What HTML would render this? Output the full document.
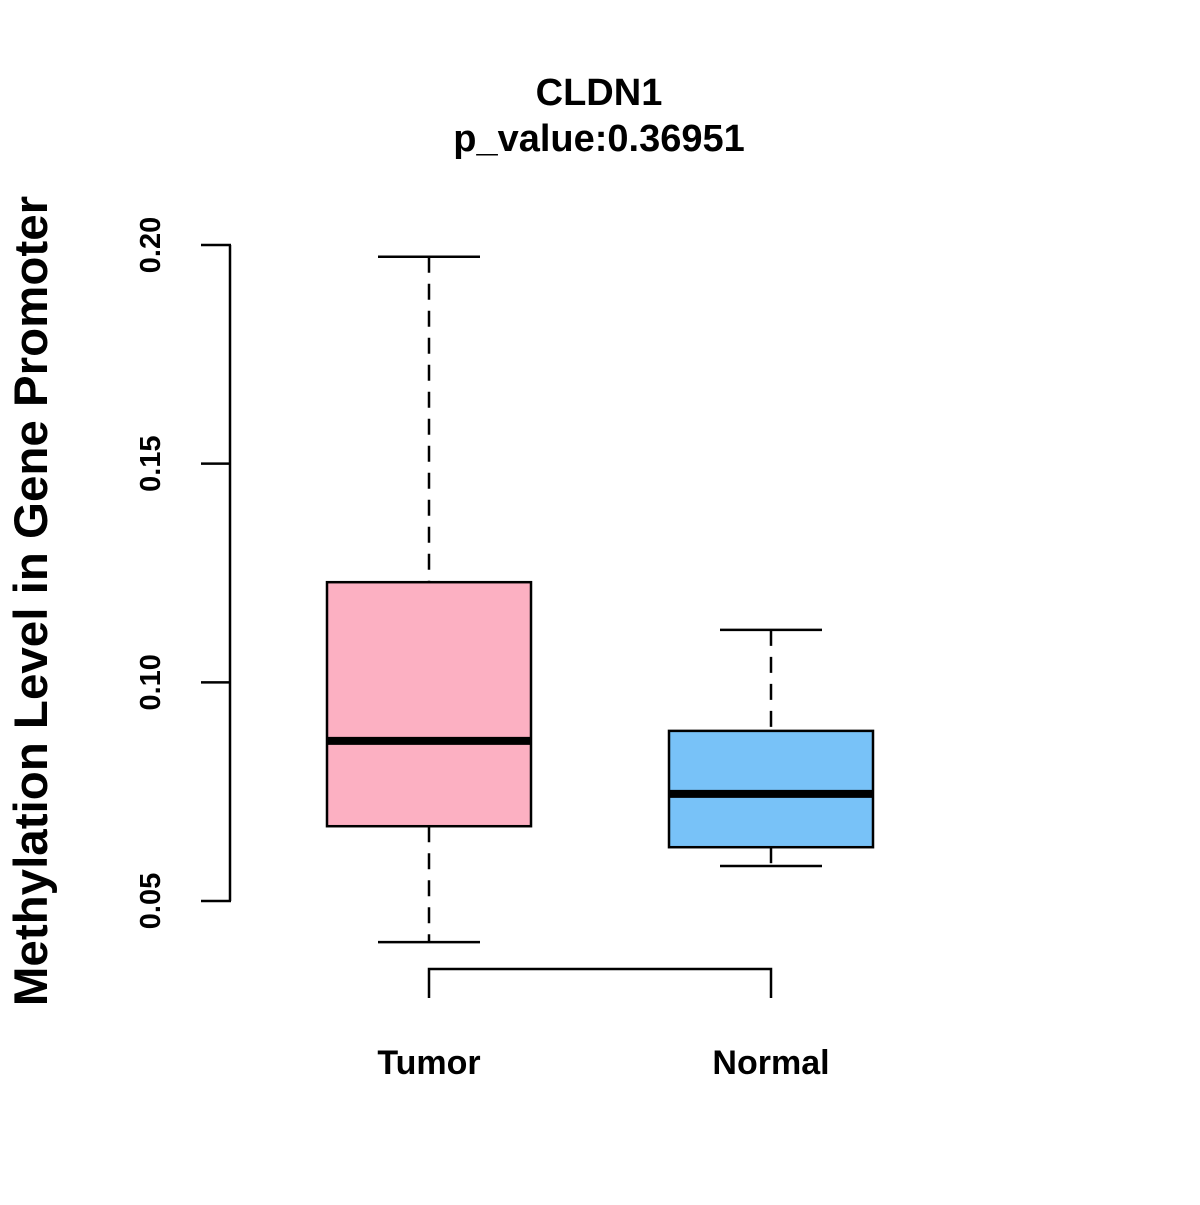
<!DOCTYPE html>
<html><head><meta charset="utf-8"><style>
html,body{margin:0;padding:0;background:#fff;}
svg text{font-family:"Liberation Sans",Arial,sans-serif;font-weight:bold;fill:#000;}
</style></head><body>
<svg id="chart" width="1200" height="1200" viewBox="0 0 1200 1200" xmlns="http://www.w3.org/2000/svg">
<rect width="1200" height="1200" fill="#fff"/>
<text x="599" y="105" font-size="38" text-anchor="middle">CLDN1</text>
<text x="599" y="151" font-size="38" text-anchor="middle">p_value:0.36951</text>
<text transform="translate(47,601) rotate(-90)" font-size="47.5" text-anchor="middle">Methylation Level in Gene Promoter</text>
<g id="yaxis"></g>
<g id="xaxis"></g>
<g id="boxes"></g>
</svg>
<script>
const categories = ["Tumor", "Normal"];
const whiskerMin = [0.0406, 0.0580];
const q1 = [0.0671, 0.0623];
const medians = [0.0866, 0.0745];
const q3 = [0.1229, 0.0889];
const whiskerMax = [0.1973, 0.1120];
const colors = ["#FCB0C2", "#78C2F8"];
const yTicks = [0.05, 0.10, 0.15, 0.20];
const yTickLabels = ["0.05", "0.10", "0.15", "0.20"];

const NS = "http://www.w3.org/2000/svg";
function y(v){ return 901 - (v - 0.05) * (656 / 0.15); }
function x(i){ return 429 + i * 342; }
function mk(tag, attrs, parent){
  const e = document.createElementNS(NS, tag);
  for (const k in attrs) e.setAttribute(k, attrs[k]);
  parent.appendChild(e); return e;
}
const ya = document.getElementById('yaxis');
const l = mk('line', {x1:230, x2:230, y1:y(yTicks[yTicks.length-1]), y2:y(yTicks[0]), stroke:'#000', 'stroke-width':2.5}, ya);


yTicks.forEach((t, i) => {
  const tk = mk('line', {x1:201, x2:231, y1:y(t), y2:y(t), stroke:'#000', 'stroke-width':2.5}, ya);
  
  
  const tx = mk('text', {transform:`translate(160,${y(t)}) rotate(-90)`, 'font-size':29, 'text-anchor':'middle'}, ya);
  tx.textContent = yTickLabels[i];
  
  
});
const xa = document.getElementById('xaxis');
const xl = mk('path', {d:`M${x(0)},998 V969 H${x(1)} V998`, fill:'none', stroke:'#000', 'stroke-width':2.5}, xa);


categories.forEach((c, i) => {
  const tx = mk('text', {x:x(i), y:1074, 'font-size':34, 'text-anchor':'middle'}, xa);
  tx.textContent = c;
  
  
});
const bx = document.getElementById('boxes');
categories.forEach((c, i) => {
  const cx = x(i);
  const g = mk('g', {}, bx);
  
  
  mk('line', {x1:cx, x2:cx, y1:y(whiskerMax[i]), y2:y(q3[i]), stroke:'#000', 'stroke-width':2.5, 'stroke-dasharray':'16,11'}, g);
  mk('line', {x1:cx, x2:cx, y1:y(q1[i]), y2:y(whiskerMin[i]), stroke:'#000', 'stroke-width':2.5, 'stroke-dasharray':'16,11'}, g);
  mk('line', {x1:cx-51, x2:cx+51, y1:y(whiskerMax[i]), y2:y(whiskerMax[i]), stroke:'#000', 'stroke-width':2.5}, g);
  mk('line', {x1:cx-51, x2:cx+51, y1:y(whiskerMin[i]), y2:y(whiskerMin[i]), stroke:'#000', 'stroke-width':2.5}, g);
  mk('rect', {x:cx-102, y:y(q3[i]), width:204, height:y(q1[i])-y(q3[i]), fill:colors[i], stroke:'#000', 'stroke-width':2.5}, g);
  mk('line', {x1:cx-102, x2:cx+102, y1:y(medians[i]), y2:y(medians[i]), stroke:'#000', 'stroke-width':8}, g);
});
</script>
</body></html>
